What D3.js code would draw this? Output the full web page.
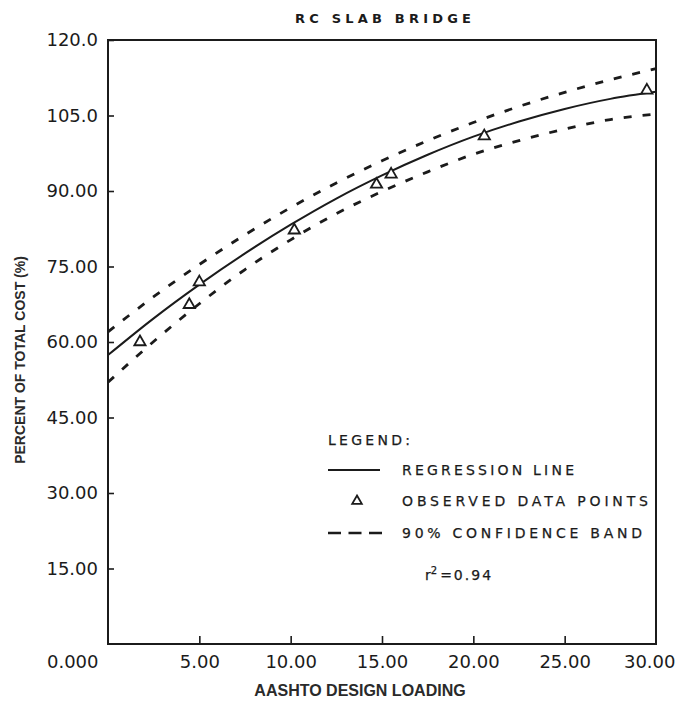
<!DOCTYPE html>
<html><head><meta charset="utf-8">
<script src="https://cdn.jsdelivr.net/npm/d3@7"></script>
<style>
html,body{margin:0;padding:0;background:#fff;}
svg{display:block;}
</style>
</head><body>
<svg id="chart" width="678" height="707"></svg>
<script>
// Design loading values at which the fitted curve and its band are tabulated
const loadGrid   = [0, 2.5, 5, 7.5, 10, 12.5, 15, 17.5, 20, 22.5, 25, 27.5, 30];
const regression = [57.4, 64.7, 71.4, 77.6, 83.3, 88.5, 93.1, 97.2, 100.8, 103.8, 106.3, 108.3, 109.7];
const upperBand  = [62.0, 69.0, 75.4, 81.3, 86.7, 91.6, 96.0, 100.0, 103.6, 106.8, 109.6, 112.1, 114.3];
const lowerBand  = [52.0, 60.1, 67.6, 74.4, 80.3, 85.5, 89.9, 93.8, 97.3, 100.0, 102.3, 104.2, 105.3];

// Observed bridges
const observedLoad = [1.75, 4.45, 5.0, 10.2, 14.7, 15.5, 20.6, 29.5];
const observedCost = [60.0, 67.4, 71.9, 82.2, 91.3, 93.3, 100.9, 110.0];

// Axis ticks
const xTicks = [0, 5, 10, 15, 20, 25, 30];
const xTickLabels = ["0.000", "5.00", "10.00", "15.00", "20.00", "25.00", "30.00"];
const yTicks = [15, 30, 45, 60, 75, 90, 105, 120];
const yTickLabels = ["15.00", "30.00", "45.00", "60.00", "75.00", "90.00", "105.0", "120.0"];

const legendLabels = ["REGRESSION LINE", "OBSERVED DATA POINTS", "90% CONFIDENCE BAND"];
const rSquared = "0.94";

const W = 678, H = 707;
const margin = {left: 108, right: 22, top: 40, bottom: 63};
const ink = "#1b1b1b";
const tickFont = "'DejaVu Sans', sans-serif";
const titleFont = "'Liberation Sans', Arial, sans-serif";

const svg = d3.select("#chart");

const x = d3.scaleLinear().domain([0, 30]).range([margin.left, W - margin.right]);
const y = d3.scaleLinear().domain([0, 120]).range([H - margin.bottom, margin.top]);

// Frame
svg.append("rect")
  .attr("x", x(0)).attr("y", y(120))
  .attr("width", x(30) - x(0)).attr("height", y(0) - y(120))
  .attr("fill", "none").attr("stroke", ink).attr("stroke-width", 2);

// Left axis: ticks point into the frame
const yAxis = svg.append("g")
  .attr("transform", `translate(${x(0)},0)`)
  .call(d3.axisLeft(y).tickValues(yTicks)
    .tickFormat((d, i) => yTickLabels[i])
    .tickSizeInner(-6).tickSizeOuter(0).tickPadding(10));
yAxis.select(".domain").remove();
yAxis.selectAll(".tick line").attr("stroke", ink).attr("stroke-width", 1.6);
yAxis.selectAll(".tick text")
  .attr("font-family", tickFont).attr("font-size", 18).attr("fill", ink);

// Bottom axis
const xAxis = svg.append("g")
  .attr("transform", `translate(0,${y(0)})`)
  .call(d3.axisBottom(x).tickValues(xTicks)
    .tickFormat((d, i) => xTickLabels[i])
    .tickSizeInner(-8).tickSizeOuter(0).tickPadding(11));
xAxis.select(".domain").remove();
xAxis.selectAll(".tick line").attr("stroke", ink).attr("stroke-width", 1.6)
  .filter(d => d === 0 || d === 30).remove();
xAxis.selectAll(".tick text")
  .attr("font-family", tickFont).attr("font-size", 18).attr("fill", ink);
// The origin label sits under the corner, right-aligned with the value labels
xAxis.selectAll(".tick text").filter(d => d === 0)
  .attr("text-anchor", "end").attr("x", -10);
// Keep the last label inside the page
xAxis.selectAll(".tick text").each(function(d) {
  const b = this.getBBox();
  const right = x(d) + b.x + b.width;
  if (right > W - 3) d3.select(this).attr("x", W - 3 - right);
});

// Curves
const gridPts = arr => loadGrid.map((v, i) => [v, arr[i]]);
const line = d3.line().x(d => x(d[0])).y(d => y(d[1])).curve(d3.curveMonotoneX);

svg.append("path").attr("d", line(gridPts(upperBand)))
  .attr("fill", "none").attr("stroke", ink).attr("stroke-width", 2.8)
  .attr("stroke-dasharray", "8,11");
svg.append("path").attr("d", line(gridPts(lowerBand)))
  .attr("fill", "none").attr("stroke", ink).attr("stroke-width", 2.8)
  .attr("stroke-dasharray", "8,11");
svg.append("path").attr("d", line(gridPts(regression)))
  .attr("fill", "none").attr("stroke", ink).attr("stroke-width", 2);

// Observed points: open triangles
const tri = d3.symbol().type(d3.symbolTriangle).size(55);
svg.append("g").selectAll("path")
  .data(observedLoad.map((v, i) => [v, observedCost[i]]))
  .join("path")
  .attr("d", tri)
  .attr("transform", d => `translate(${x(d[0])},${y(d[1])})`)
  .attr("fill", "#fff").attr("stroke", ink).attr("stroke-width", 1.8);

// Title
svg.append("text")
  .attr("x", 383).attr("y", 23)
  .attr("text-anchor", "middle")
  .attr("font-family", tickFont).attr("font-weight", "bold").attr("font-size", 13)
  .attr("textLength", 176).attr("lengthAdjust", "spacing")
  .attr("fill", ink).text("RC SLAB BRIDGE");

// Axis titles
svg.append("text")
  .attr("transform", `translate(25,${(y(0) + y(120)) / 2 + 18}) rotate(-90)`)
  .attr("text-anchor", "middle")
  .attr("font-family", titleFont).attr("font-weight", "bold").attr("font-size", 14)
  .attr("fill", "#2a2a2a").text("PERCENT OF TOTAL COST (%)");

svg.append("text")
  .attr("x", 360).attr("y", 696)
  .attr("text-anchor", "middle")
  .attr("font-family", titleFont).attr("font-weight", "bold").attr("font-size", 16)
  .attr("fill", "#2a2a2a").text("AASHTO DESIGN LOADING");

// Legend
const lg = svg.append("g").attr("font-family", tickFont).attr("font-size", 14)
  .attr("fill", ink).attr("stroke", ink).attr("stroke-width", 0.25);
const legX = 328, textX = 402;
lg.append("text").attr("x", legX).attr("y", 445)
  .attr("textLength", 82).attr("lengthAdjust", "spacing").text("LEGEND:");

const rowY = [470, 501, 533];
const rowLen = [172, 246, 240];
legendLabels.forEach((t, i) => {
  lg.append("text").attr("x", textX).attr("y", rowY[i] + 5)
    .attr("textLength", rowLen[i]).attr("lengthAdjust", "spacing").text(t);
});
svg.append("line").attr("x1", legX).attr("x2", 380).attr("y1", rowY[0]).attr("y2", rowY[0])
  .attr("stroke", ink).attr("stroke-width", 2);
svg.append("path").attr("d", d3.symbol().type(d3.symbolTriangle).size(40))
  .attr("transform", `translate(357,${rowY[1]})`)
  .attr("fill", "#fff").attr("stroke", ink).attr("stroke-width", 1.8);
svg.append("line").attr("x1", legX).attr("x2", 382).attr("y1", rowY[2]).attr("y2", rowY[2])
  .attr("stroke", ink).attr("stroke-width", 2.6).attr("stroke-dasharray", "13,7.5");

const r2 = lg.append("text").attr("x", 425).attr("y", 580);
r2.append("tspan").text("r");
r2.append("tspan").attr("dy", -6).attr("font-size", 10).text("2");
r2.append("tspan").attr("dy", 6).attr("dx", 3).attr("letter-spacing", 2).text("=" + rSquared);
</script>
</body></html>
